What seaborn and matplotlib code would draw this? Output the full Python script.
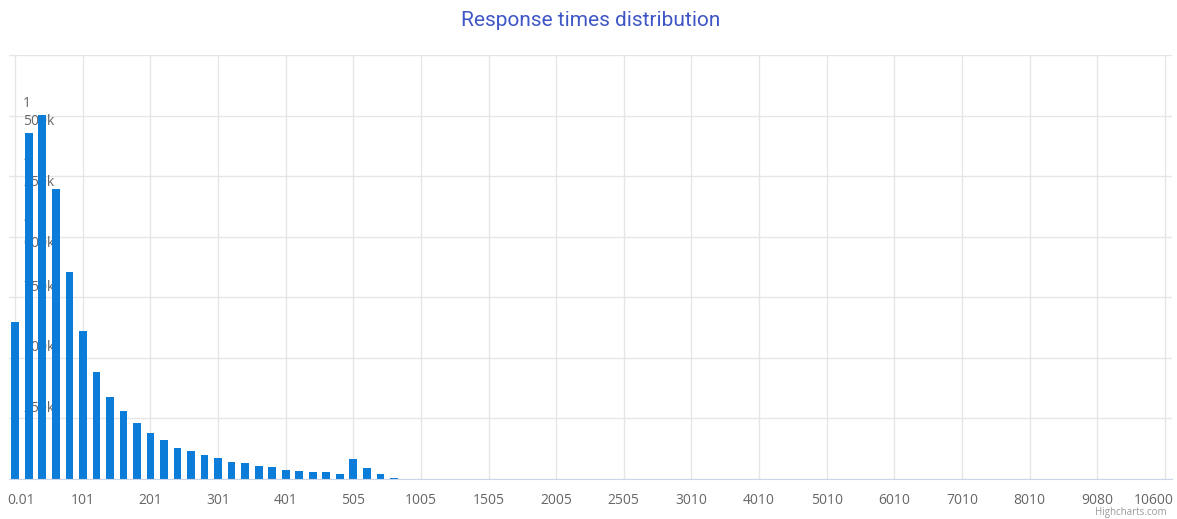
import numpy as np
import seaborn as sns
import matplotlib.pyplot as plt
import matplotlib.transforms as mtransforms
import pandas as pd

# response time bins (ms), one bar per bin
bins = ["0.01", "21", "41", "61", "81", "101", "121", "141", "161", "181",
        "201", "221", "241", "261", "281", "301", "321", "341", "361", "381",
        "401", "421", "441", "461", "481", "505", "605", "705", "805", "905",
        "1005", "1105", "1205", "1305", "1405", "1505", "1605", "1705", "1805", "1905",
        "2005", "2105", "2205", "2305", "2405", "2505", "2605", "2705", "2805", "2905",
        "3010", "3210", "3410", "3610", "3810", "4010", "4210", "4410", "4610", "4810",
        "5010", "5210", "5410", "5610", "5810", "6010", "6210", "6410", "6610", "6810",
        "7010", "7210", "7410", "7610", "7810", "8010", "8224", "8438", "8652", "8866",
        "9080", "9384", "9688", "9992", "10296", "10600"]
counts = [648000, 1428000, 1502000, 1196000, 856000, 609000, 441000, 340000, 282000, 233000,
          190000, 162000, 130000, 114000, 97000, 87000, 71000, 66000, 55000, 49000,
          38000, 34000, 29000, 29000, 22000, 83000, 44000, 22000, 5000, 0] + [0] * 56

yticks = [250000, 500000, 750000, 1000000, 1250000, 1500000]
ytick_labels = ["250k", "500k", "750k", "1 000k", "1 250k", "1 500k"]
shown_bins = bins[::5]

df = pd.DataFrame({"bin": bins, "count": counts})

sns.set_style("white")
plt.rcParams['font.family'] = ['Open Sans', 'DejaVu Sans']

fig = plt.figure(figsize=(11.77, 5.19), dpi=100)
ax = fig.add_axes([8.5 / 1177, 40 / 519, 1163 / 1177, 424 / 519])

sns.barplot(data=df, x="bin", y="count", order=bins, color="#0b7dd8",
            saturation=1, width=0.57, linewidth=0, ax=ax, zorder=3)

ax.set_xlim(-0.5, len(bins) - 0.5)
ax.set_ylim(0, 1750000)
ax.set_yticks([0] + yticks + [1750000])
ax.set_yticklabels([])
ax.tick_params(axis="y", length=0)
ax.set_xticks(range(0, len(bins), 5))
ax.set_xticklabels(shown_bins, fontsize=10, color="#666666")
ax.tick_params(axis="x", length=4, width=1, color="#ccd6eb", pad=6)
labs = ax.get_xticklabels()
# first and last labels are nudged inwards, like the original
labs[0].set_transform(labs[0].get_transform() + mtransforms.ScaledTranslation(6 / 100, 0, fig.dpi_scale_trans))
labs[-1].set_transform(labs[-1].get_transform() + mtransforms.ScaledTranslation(-11 / 100, 0, fig.dpi_scale_trans))

ax.grid(True, color="#e6e6e6", linewidth=1, zorder=0)
ax.set_axisbelow(True)
for s in ["top", "left", "right"]:
    ax.spines[s].set_visible(False)
ax.spines["bottom"].set_color("#ccd6eb")
ax.spines["bottom"].set_zorder(4)
ax.set_xlabel("")
ax.set_ylabel("")

# y labels sit inside the plot, behind the bars
for v, lab in zip(yticks, ytick_labels):
    txt = lab.replace(" ", "\n")
    off = 3 if "\n" in txt else 10
    ax.annotate(txt, xy=(14.5 / 1163, v), xycoords=ax.get_yaxis_transform(),
                xytext=(0, off), textcoords="offset pixels",
                ha="left", va="center", fontsize=10, color="#666666",
                linespacing=1.35, zorder=1)

fig.text(0.502, 1 - 21 / 519, "Response times distribution", ha="center", va="center",
         fontsize=15, color="#3f56c6", family=["Roboto", "DejaVu Sans"])
fig.text(1167 / 1177, 1 - 512 / 519, "Highcharts.com", ha="right", va="center",
         fontsize=7, color="#999999")

fig.savefig("out.png", dpi=100, facecolor="white")
